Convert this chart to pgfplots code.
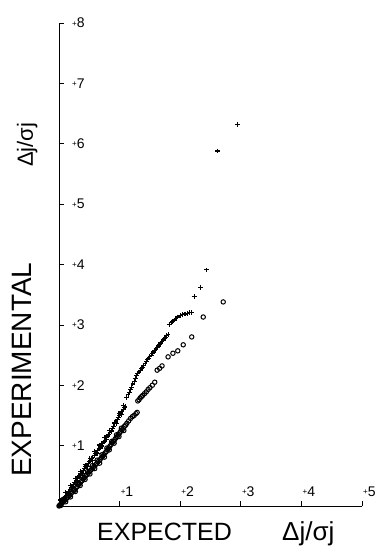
\documentclass[border=0pt]{standalone}
\usepackage{pgfplots}
\pgfplotsset{compat=1.18}
\usepackage{fontspec}
\setmainfont{Liberation Sans}
\newcommand{\pl}[1]{{\fontsize{14}{14}\selectfont\raisebox{1.8pt}{\fontsize{8}{8}\selectfont+}#1}}
\begin{document}
\begin{tikzpicture}
\begin{axis}[
 scale only axis, width=303pt, height=483pt,
 xmin=0, xmax=5, ymin=0, ymax=8,
 axis x line=bottom, axis y line=left,
 axis line style={-, line width=0.7pt},
 tick align=inside, major tick length=5pt,
 tick style={line width=0.7pt, black},
 xtick={1,2,3,4,5}, ytick={1,2,3,4,5,6,7,8},
 xticklabels={\pl1,\pl2,\pl3,\pl4,\pl5},
 yticklabels={\pl1,\pl2,\pl3,\pl4,\pl5,\pl6,\pl7,\pl8},
 xticklabel style={anchor=south west, inner sep=0pt, yshift=9pt, xshift=1pt},
 yticklabel style={anchor=west, inner sep=0pt, xshift=13pt},
 clip=false,
]
\addplot[only marks, mark=+, mark size=2.4pt, line width=1.1pt] coordinates {
(0.00,0.00)(0.01,0.02)(0.02,0.03)(0.03,0.04)(0.04,0.06)(0.05,0.08)(0.06,0.09)
(0.08,0.12)(0.10,0.15)(0.12,0.18)(0.14,0.21)(0.16,0.24)(0.18,0.27)(0.20,0.30)
(0.22,0.33)(0.24,0.36)(0.26,0.39)(0.28,0.42)(0.30,0.45)(0.32,0.48)(0.34,0.51)
(0.36,0.53)(0.38,0.56)(0.40,0.59)(0.42,0.62)(0.44,0.65)(0.46,0.67)(0.48,0.70)
(0.50,0.73)(0.52,0.76)(0.54,0.79)(0.56,0.81)(0.58,0.84)(0.60,0.87)(0.62,0.89)
(0.64,0.92)(0.66,0.95)(0.68,0.97)(0.70,1.00)(0.72,1.03)(0.74,1.06)(0.76,1.09)
(0.78,1.13)(0.80,1.16)(0.82,1.19)(0.84,1.22)(0.86,1.25)(0.88,1.29)(0.90,1.32)
(0.92,1.36)(0.94,1.39)(0.96,1.43)(0.98,1.46)(1.00,1.50)(1.02,1.53)(1.04,1.57)
(1.06,1.60)(1.08,1.63)(1.09,1.65)
(0.03,0.10)(0.07,0.07)(0.11,0.22)(0.15,0.19)(0.19,0.34)(0.23,0.31)(0.27,0.46)
(0.31,0.42)(0.35,0.57)(0.39,0.54)(0.43,0.68)(0.47,0.65)(0.51,0.79)(0.55,0.76)
(0.59,0.90)(0.63,0.87)(0.67,1.01)(0.71,0.98)(0.75,1.13)(0.79,1.10)(0.83,1.25)
(0.87,1.23)(0.91,1.39)(0.95,1.37)(0.99,1.53)(1.03,1.51)(1.07,1.67)
(1.12,1.80)(1.14,1.84)(1.16,1.88)(1.18,1.93)(1.20,1.97)(1.22,2.02)(1.24,2.06)
(1.26,2.11)(1.28,2.16)(1.30,2.19)(1.32,2.22)(1.34,2.25)(1.36,2.28)(1.38,2.30)
(1.40,2.33)(1.42,2.36)(1.44,2.39)(1.46,2.42)(1.48,2.45)(1.50,2.48)(1.52,2.50)
(1.54,2.53)(1.56,2.55)(1.58,2.58)(1.60,2.60)(1.62,2.63)(1.64,2.65)(1.66,2.68)
(1.68,2.70)(1.70,2.72)(1.72,2.75)(1.74,2.77)(1.76,2.79)(1.78,2.82)(1.80,2.84)
(1.83,3.00)(1.85,3.04)(1.87,3.06)(1.90,3.08)(1.93,3.11)(1.96,3.13)(2.00,3.16)
(2.04,3.17)(2.08,3.18)(2.12,3.19)(2.16,3.20)(2.19,3.20)
(2.23,3.47)(2.33,3.62)(2.44,3.91)(2.62,5.88)(2.94,6.32)
};
\addplot[only marks, mark=o, mark size=2.2pt, line width=1.0pt] coordinates {
(0.00,0.00)(0.01,0.01)(0.02,0.02)(0.03,0.03)(0.04,0.04)(0.05,0.05)(0.06,0.06)
(0.08,0.08)(0.10,0.10)(0.12,0.12)(0.14,0.14)(0.16,0.16)(0.18,0.18)(0.20,0.21)
(0.22,0.23)(0.24,0.25)(0.26,0.27)(0.28,0.30)(0.30,0.32)(0.32,0.35)(0.34,0.37)
(0.36,0.40)(0.38,0.42)(0.40,0.45)(0.42,0.47)(0.44,0.50)(0.46,0.52)(0.48,0.54)
(0.50,0.57)(0.52,0.59)(0.54,0.61)(0.56,0.63)(0.58,0.66)(0.60,0.68)(0.62,0.70)
(0.64,0.73)(0.66,0.75)(0.68,0.77)(0.70,0.80)(0.72,0.82)(0.74,0.85)(0.76,0.88)
(0.78,0.90)(0.80,0.93)(0.82,0.96)(0.84,0.99)(0.86,1.02)(0.88,1.05)(0.90,1.07)
(0.92,1.10)(0.94,1.13)(0.96,1.15)(0.98,1.18)(1.00,1.21)(1.02,1.24)(1.04,1.26)
(1.06,1.29)(1.08,1.32)(1.10,1.34)(1.12,1.37)(1.15,1.41)(1.18,1.45)(1.21,1.48)
(1.24,1.50)(1.27,1.53)(1.29,1.55)
(0.03,0.01)(0.07,0.11)(0.11,0.07)(0.15,0.20)(0.19,0.15)(0.23,0.29)(0.27,0.24)
(0.31,0.38)(0.35,0.34)(0.39,0.48)(0.43,0.44)(0.47,0.57)(0.51,0.53)(0.55,0.67)
(0.59,0.62)(0.63,0.76)(0.67,0.71)(0.71,0.85)(0.75,0.81)(0.79,0.96)(0.83,0.93)
(0.87,1.07)(0.91,1.04)(0.95,1.18)(0.99,1.15)(1.03,1.29)(1.07,1.25)
(1.30,1.74)(1.32,1.76)(1.34,1.79)(1.36,1.81)(1.38,1.83)(1.41,1.86)(1.44,1.89)
(1.47,1.93)(1.50,1.96)(1.54,2.00)(1.58,2.05)
(1.62,2.25)(1.66,2.28)(1.70,2.32)(1.80,2.47)(1.88,2.53)(1.96,2.57)(2.05,2.67)
(2.19,2.80)(2.38,3.13)(2.71,3.38)
};
\coordinate (ll) at (rel axis cs:0,0);
\coordinate (ur) at (rel axis cs:1,1);
\end{axis}
\node[anchor=base west, inner sep=0pt, font=\fontsize{25}{30}\selectfont] at ([xshift=38pt,yshift=-34pt]ll) {EXPECTED};
\node[anchor=base west, inner sep=0pt, font=\fontsize{26}{30}\selectfont] at ([xshift=223pt,yshift=-34pt]ll) {Δj/σj};
\node[anchor=base west, inner sep=0pt, rotate=90, font=\fontsize{28}{30}\selectfont] at ([xshift=-27pt,yshift=29pt]ll) {EXPERIMENTAL};
\node[anchor=base west, inner sep=0pt, rotate=90, font=\fontsize{22}{30}\selectfont] at ([xshift=-26pt,yshift=339pt]ll) {Δj/σj};
\pgfresetboundingbox
\path ([xshift=-59pt,yshift=-50pt]ll) rectangle ([xshift=15pt,yshift=23pt]ur);
\end{tikzpicture}
\end{document}
